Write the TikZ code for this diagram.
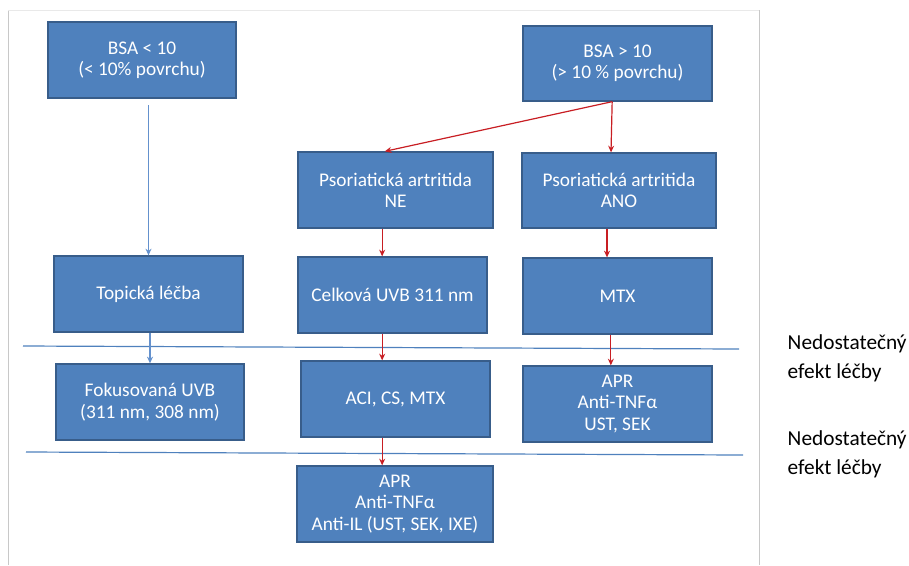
\documentclass[tikz,border=0pt]{standalone}
\usepackage{fontspec}
\setmainfont{Carlito}
\usepackage{tikz}
\usetikzlibrary{arrows.meta,positioning}
\definecolor{boxblue}{RGB}{79,129,189}
\definecolor{boxedge}{RGB}{56,93,138}
\definecolor{arrowred}{RGB}{200,30,35}
\definecolor{arrowblue}{RGB}{100,145,205}
\definecolor{framegray}{RGB}{200,200,200}
\tikzset{>={Stealth[length=5pt,width=4.5pt]}}
\tikzset{
    stage/.style={rectangle,draw=boxedge,line width=1pt,fill=boxblue,text=white,
        align=center,inner sep=0pt,font=\fontsize{14.5}{16}\selectfont},
    size/.style 2 args={minimum width=#1*0.75pt,minimum height=#2*0.75pt},
    redarrow/.style={arrows={->},draw=arrowred,line width=0.9pt},
    bluearrow/.style={arrows={->},draw=arrowblue,line width=0.9pt},
    separator/.style={draw=boxblue,line width=0.9pt},
    remark/.style={anchor=west,align=left,font=\fontsize{16}{21.5}\selectfont},
}

\begin{document}
\begin{tikzpicture}[x=0.75pt,y=-0.75pt]
    \useasboundingbox (0,0) rectangle (909,565);
    % page frame
    \draw[framegray,line width=0.6pt] (8,565) -- (8,10);
    \draw[framegray!40,line width=0.5pt] (8,10) -- (759,10);
    \draw[framegray,line width=0.6pt] (759,10) -- (759,565);

    \node[stage,size={188}{76}] (bsaLow) at (142,60) {BSA < 10\\(< 10\% povrchu)};
    \node[stage,size={189}{75}] (bsaHigh) at (617.5,63.5) {BSA > 10\\(> 10 \% povrchu)};
    \node[stage,size={195}{76}] (paNe) at (395.5,190) {Psoriatická artritida\\NE};
    \node[stage,size={194}{75}] (paAno) at (619,190.5) {Psoriatická artritida\\ANO};
    \node[stage,size={189}{76}] (topic) at (148.5,294) {Topická léčba};
    \node[stage,size={189}{76}] (uvb) at (392.5,295) {Celková UVB 311 nm};
    \node[stage,size={189}{76}] (mtx) at (617.5,296) {MTX};
    \node[stage,size={188}{76}] (focus) at (150,402) {Fokusovaná UVB\\(311 nm, 308 nm)};
    \node[stage,size={189}{76}] (aci) at (395.5,399) {ACI, CS, MTX};
    \node[stage,size={189}{76}] (aprRight) at (617.5,404) {APR\\Anti-TNFα\\UST, SEK};
    \node[stage,size={196}{76}] (aprBottom) at (395,504) {APR\\Anti-TNFα\\Anti-IL (UST, SEK, IXE)};

    % separators
    \draw[separator] (23,346) -- (739,349);
    \draw[separator] (26,452) -- (743,455);

    \node[remark] (noEffectA) at (783,358) {Nedostatečný\\efekt léčby};
    \node[remark] (noEffectB) at (783,454) {Nedostatečný\\efekt léčby};

    \draw[bluearrow] ([yshift=-5]topic.north |- bsaLow.south) -- (topic.north);
    \draw[bluearrow] (topic.south -| focus.north) -- (focus.north);
    \draw[redarrow] ([xshift=-4]bsaHigh.south) -- ([xshift=-8]paNe.north);
    \draw[redarrow] ([xshift=-4]bsaHigh.south) -- ([xshift=-6]paAno.north);
    \draw[redarrow] ([xshift=-10]paNe.south) -- ([xshift=-10]paNe.south |- uvb.north);
    \draw[redarrow] ([xshift=-9]paAno.south) -- ([xshift=-9]paAno.south |- mtx.north);
    \draw[redarrow] ([xshift=-10]aci.north |- uvb.south) -- ([xshift=-10]aci.north);
    \draw[redarrow] ([xshift=-5]mtx.south) -- ([xshift=-5]aprRight.north);
    \draw[redarrow] ([xshift=-10]aci.south) -- ([xshift=-10]aci.south |- aprBottom.north);
\end{tikzpicture}
\end{document}
